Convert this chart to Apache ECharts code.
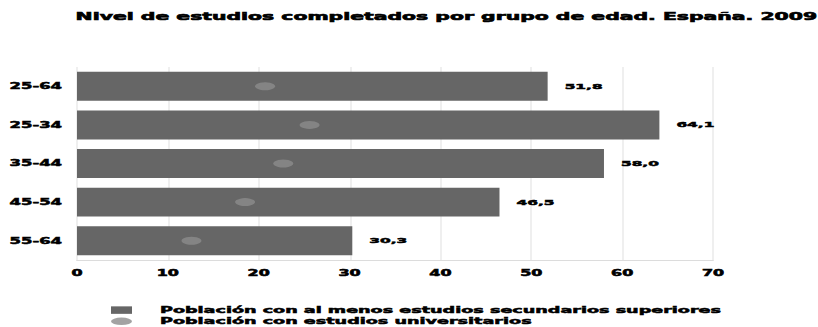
<!DOCTYPE html>
<html>
<head>
<meta charset="utf-8">
<script src="https://cdn.jsdelivr.net/npm/echarts@6/dist/echarts.min.js"></script>
<style>
  html, body { margin: 0; padding: 0; background: #fff; overflow: hidden; }
  /* la figura original está estirada en horizontal: se dibuja a media anchura y se escala x2 */
  #chart { width: 409px; height: 327px; transform: scaleX(2); transform-origin: 0 0; }
</style>
</head>
<body>
<div id="chart"></div>
<script>
// datos
const grupos = ["25-64", "25-34", "35-44", "45-54", "55-64"];
const secundarios = [51.8, 64.1, 58.0, 46.5, 30.3];
const universitarios = [20.7, 25.6, 22.7, 18.5, 12.6];
const serieNombres = [
  "Población con al menos estudios secundarios superiores",
  "Población con estudios universitarios"
];

const FONT = "DejaVu Sans";
// trazo fino para engordar la negrita
const heavy = { textBorderColor: "#000", textBorderWidth: 0.5 };

const chart = echarts.init(document.getElementById("chart"), null, { renderer: "svg" });

chart.setOption({
  animation: false,
  graphic: [
    {
      type: "text",
      left: 37.5,
      top: 11.5,
      style: {
        text: "Nivel de estudios completados por grupo de edad. España. 2009",
        font: "bold 10.2px '" + FONT + "'",
        fill: "#000",
        stroke: "#000",
        lineWidth: 0.6
      }
    }
  ],
  grid: { left: 38.5, right: 52.5, top: 67, bottom: 67 },
  legend: {
    orient: "vertical",
    left: 55.5,
    top: 304.5,
    padding: 0,
    itemGap: 0,
    itemWidth: 10.5,
    itemHeight: 7.5,
    symbolKeepAspect: false,
    textStyle: {
      fontFamily: FONT,
      fontWeight: "bold",
      fontSize: 8.8,
      color: "#000",
      padding: [0, 0, 0, 9],
      lineHeight: 11.2,
      ...heavy
    },
    data: [
      { name: serieNombres[0], icon: "rect" },
      {
        name: serieNombres[1],
        icon: "path://M0,50A50,50 0 1,0 100,50A50,50 0 1,0 0,50Z",
        itemStyle: { color: "#8c8c8c" }
      }
    ]
  },
  xAxis: {
    type: "value",
    min: 0,
    max: 70,
    interval: 10,
    axisLine: { show: true, lineStyle: { color: "#dcdcdc", width: 1 } },
    axisTick: { show: false },
    splitLine: { lineStyle: { color: "#e4e4e4", width: 0.6 } },
    axisLabel: {
      fontFamily: FONT,
      fontWeight: "bold",
      fontSize: 8,
      color: "#000",
      margin: 9,
      ...heavy
    }
  },
  yAxis: {
    type: "category",
    data: grupos,
    inverse: true,
    axisLine: { show: false },
    axisTick: { show: false },
    axisLabel: {
      fontFamily: FONT,
      fontWeight: "bold",
      fontSize: 8.2,
      color: "#000",
      margin: 7.5,
      ...heavy
    }
  },
  series: [
    {
      name: serieNombres[0],
      type: "bar",
      data: secundarios,
      barCategoryGap: "25%",
      itemStyle: { color: "#666666" },
      label: {
        show: true,
        position: "right",
        distance: 8.5,
        fontFamily: FONT,
        fontWeight: "bold",
        fontSize: 7.7,
        color: "#000",
        ...heavy,
        formatter: p => p.value.toFixed(1).replace(".", ",")
      },
      z: 2
    },
    {
      name: serieNombres[1],
      type: "scatter",
      data: universitarios.map((v, i) => [v, grupos[i]]),
      symbol: "circle",
      symbolSize: [10, 8],
      itemStyle: { color: "#8c8c8c" },
      z: 3
    }
  ]
});
</script>
</body>
</html>
